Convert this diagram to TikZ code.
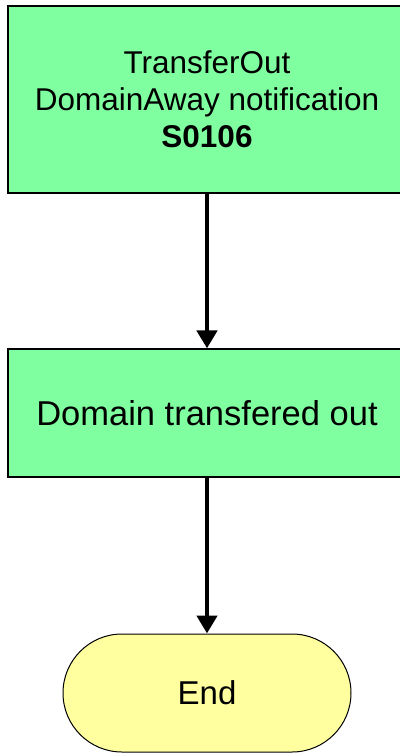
\documentclass[tikz,border=0pt]{standalone}
\usepackage{fontspec}
\setmainfont{Liberation Sans}
\usetikzlibrary{arrows.meta}
\definecolor{boxgreen}{RGB}{128,255,160}
\definecolor{endyellow}{RGB}{255,255,160}

\begin{document}
\begin{tikzpicture}[x=1pt, y=1pt,
    stepbox/.style={draw, line width=1.2pt, fill=boxgreen, minimum width=398pt, align=center, inner sep=0pt,
        font=\fontsize{34.5}{37}\selectfont},
    endbox/.style={draw, line width=1pt, fill=endyellow, minimum width=288pt, minimum height=118pt,
        rounded corners=59pt, inner sep=0pt, font=\fontsize{33}{37}\selectfont},
    flow/.style={line width=4.5pt, -{Triangle[width=20pt, length=18pt]}}]
    \useasboundingbox (0, 0) rectangle (399, -755);

    \node[stepbox, minimum height=187pt, font=\fontsize{31.5}{37}\selectfont] (notify) at (207, -99.5)
        {TransferOut\\DomainAway notification\\\textbf{S0106}};
    \node[stepbox, minimum height=128pt] (out) at (207, -413) {Domain transfered out};
    \node[endbox] (end) at (207, -693) {End};

    \draw[flow] (notify) -- (out);
    \draw[flow] (out) -- (end);
\end{tikzpicture}
\end{document}
